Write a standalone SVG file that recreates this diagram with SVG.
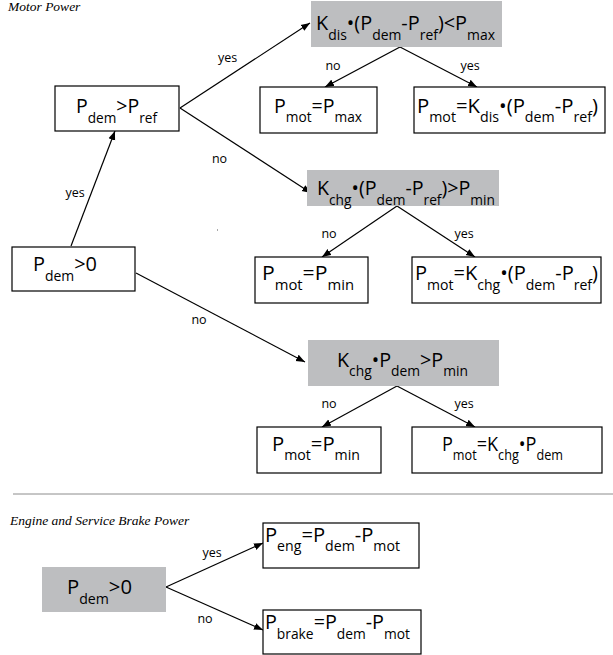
<svg xmlns="http://www.w3.org/2000/svg" width="613" height="655" viewBox="0 0 613 655">
<style>
.b{fill:#fff;stroke:#000;stroke-width:1.2}
.g{fill:#bdbec0;stroke:none}
.t{font-family:"Open Sans","Noto Sans",sans-serif;font-size:20px;fill:#000}
.s{font-size:14px}
.l{font-family:"Open Sans","Noto Sans",sans-serif;font-size:12.5px;fill:#000;text-anchor:middle}
.h{font-family:"Liberation Serif","DejaVu Serif",serif;font-style:italic;font-size:13.5px;fill:#000}
.c line{stroke:#000;stroke-width:1.2;marker-end:url(#ah)}
</style>
<defs>
<marker id="ah" markerUnits="userSpaceOnUse" markerWidth="10" markerHeight="8" refX="9" refY="4" orient="auto">
<path d="M0,0.5 L9,4 L0,7.5 Z" fill="#000"/>
</marker>
</defs>
<text class="h" x="8" y="11">Motor Power</text>
<text class="h" x="10" y="525">Engine and Service Brake Power</text>
<line x1="13" y1="494" x2="613" y2="494" stroke="#8c8c8c" stroke-width="1"/>
<rect x="217" y="229.5" width="1" height="1" fill="#555"/>

<g class="c" id="connectors">
<line x1="71" y1="246" x2="115" y2="131"/>
<line x1="180" y1="108" x2="310" y2="23"/>
<line x1="180" y1="108" x2="311" y2="193"/>
<line x1="136" y1="273" x2="305" y2="362"/>
<line x1="400" y1="47" x2="325" y2="87"/>
<line x1="400" y1="47" x2="477" y2="87"/>
<line x1="397" y1="206" x2="322" y2="257"/>
<line x1="397" y1="206" x2="475" y2="257"/>
<line x1="397" y1="386" x2="322" y2="427"/>
<line x1="397" y1="386" x2="475" y2="427"/>
<line x1="166" y1="587" x2="263" y2="543"/>
<line x1="166" y1="587" x2="263" y2="630"/>
<text class="l" x="227.5" y="62">yes</text>
<text class="l" x="219.5" y="162.5">no</text>
<text class="l" x="75" y="197">yes</text>
<text class="l" x="199" y="324">no</text>
<text class="l" x="333" y="70">no</text>
<text class="l" x="470" y="70">yes</text>
<text class="l" x="329" y="238">no</text>
<text class="l" x="464" y="238">yes</text>
<text class="l" x="329" y="408">no</text>
<text class="l" x="464" y="408">yes</text>
<text class="l" x="212" y="557">yes</text>
<text class="l" x="205" y="623">no</text>
</g>

<g id="n_dem_ref">
<rect class="b" x="55" y="86" width="124" height="45"/>
<text class="t" x="76" y="113" textLength="81" lengthAdjust="spacingAndGlyphs">P<tspan class="s" dy="9.5">dem</tspan><tspan dy="-9.5">&gt;P</tspan><tspan class="s" dy="9.5">ref</tspan></text>
</g>
<g id="n_dem0">
<rect class="b" x="12" y="247" width="123" height="44"/>
<text class="t" x="33" y="271" textLength="64" lengthAdjust="spacingAndGlyphs">P<tspan class="s" dy="9.5">dem</tspan><tspan dy="-9.5">&gt;0</tspan></text>
</g>
<g id="n_dis">
<rect class="g" x="311" y="1" width="191" height="46"/>
<text class="t" x="316" y="30" textLength="179" lengthAdjust="spacingAndGlyphs">K<tspan class="s" dy="9.5">dis</tspan><tspan dy="-9.5">•(P</tspan><tspan class="s" dy="9.5">dem</tspan><tspan dy="-9.5">-P</tspan><tspan class="s" dy="9.5">ref</tspan><tspan dy="-9.5">)&lt;P</tspan><tspan class="s" dy="9.5">max</tspan></text>
</g>
<g id="n_mot_max">
<rect class="b" x="260" y="87" width="117" height="46"/>
<text class="t" x="274" y="112.5" textLength="88" lengthAdjust="spacingAndGlyphs">P<tspan class="s" dy="9.5">mot</tspan><tspan dy="-9.5">=P</tspan><tspan class="s" dy="9.5">max</tspan></text>
</g>
<g id="n_mot_dis">
<rect class="b" x="414" y="87" width="191" height="46"/>
<text class="t" x="417" y="112.5" textLength="181" lengthAdjust="spacingAndGlyphs">P<tspan class="s" dy="9.5">mot</tspan><tspan dy="-9.5">=K</tspan><tspan class="s" dy="9.5">dis</tspan><tspan dy="-9.5">•(P</tspan><tspan class="s" dy="9.5">dem</tspan><tspan dy="-9.5">-P</tspan><tspan class="s" dy="9.5">ref</tspan><tspan dy="-9.5">)</tspan></text>
</g>
<g id="n_chg">
<rect class="g" x="307" y="170" width="192" height="36"/>
<text class="t" x="317" y="195" textLength="178" lengthAdjust="spacingAndGlyphs">K<tspan class="s" dy="9.5">chg</tspan><tspan dy="-9.5">•(P</tspan><tspan class="s" dy="9.5">dem</tspan><tspan dy="-9.5">-P</tspan><tspan class="s" dy="9.5">ref</tspan><tspan dy="-9.5">)&gt;P</tspan><tspan class="s" dy="9.5">min</tspan></text>
</g>
<g id="n_mot_min1">
<rect class="b" x="255" y="257" width="113" height="46"/>
<text class="t" x="262" y="280" textLength="92" lengthAdjust="spacingAndGlyphs">P<tspan class="s" dy="9.5">mot</tspan><tspan dy="-9.5">=P</tspan><tspan class="s" dy="9.5">min</tspan></text>
</g>
<g id="n_mot_chg1">
<rect class="b" x="412" y="257" width="189" height="46"/>
<text class="t" x="415" y="280" textLength="183" lengthAdjust="spacingAndGlyphs">P<tspan class="s" dy="9.5">mot</tspan><tspan dy="-9.5">=K</tspan><tspan class="s" dy="9.5">chg</tspan><tspan dy="-9.5">•(P</tspan><tspan class="s" dy="9.5">dem</tspan><tspan dy="-9.5">-P</tspan><tspan class="s" dy="9.5">ref</tspan><tspan dy="-9.5">)</tspan></text>
</g>
<g id="n_chg_dem">
<rect class="g" x="308" y="340" width="191" height="46"/>
<text class="t" x="337" y="366.5" textLength="131" lengthAdjust="spacingAndGlyphs">K<tspan class="s" dy="9.5">chg</tspan><tspan dy="-9.5">•P</tspan><tspan class="s" dy="9.5">dem</tspan><tspan dy="-9.5">&gt;P</tspan><tspan class="s" dy="9.5">min</tspan></text>
</g>
<g id="n_mot_min2">
<rect class="b" x="257" y="427" width="124" height="46"/>
<text class="t" x="272" y="450.5" textLength="88" lengthAdjust="spacingAndGlyphs">P<tspan class="s" dy="9.5">mot</tspan><tspan dy="-9.5">=P</tspan><tspan class="s" dy="9.5">min</tspan></text>
</g>
<g id="n_mot_chg2">
<rect class="b" x="412" y="427" width="190" height="46"/>
<text class="t" x="442" y="450.5" textLength="121" lengthAdjust="spacingAndGlyphs">P<tspan class="s" dy="9.5">mot</tspan><tspan dy="-9.5">=K</tspan><tspan class="s" dy="9.5">chg</tspan><tspan dy="-9.5">•P</tspan><tspan class="s" dy="9.5">dem</tspan></text>
</g>
<g id="n_dem0_b">
<rect class="g" x="42" y="567" width="124" height="45"/>
<text class="t" x="67" y="594" textLength="65" lengthAdjust="spacingAndGlyphs">P<tspan class="s" dy="9.5">dem</tspan><tspan dy="-9.5">&gt;0</tspan></text>
</g>
<g id="n_eng">
<rect class="b" x="263" y="523" width="156" height="45"/>
<text class="t" x="265" y="541.5" textLength="135" lengthAdjust="spacingAndGlyphs">P<tspan class="s" dy="9.5">eng</tspan><tspan dy="-9.5">=P</tspan><tspan class="s" dy="9.5">dem</tspan><tspan dy="-9.5">-P</tspan><tspan class="s" dy="9.5">mot</tspan></text>
</g>
<g id="n_brake">
<rect class="b" x="263" y="610" width="158" height="44"/>
<text class="t" x="265" y="629" textLength="145" lengthAdjust="spacingAndGlyphs">P<tspan class="s" dy="9.5">brake</tspan><tspan dy="-9.5">=P</tspan><tspan class="s" dy="9.5">dem</tspan><tspan dy="-9.5">-P</tspan><tspan class="s" dy="9.5">mot</tspan></text>
</g>
</svg>
